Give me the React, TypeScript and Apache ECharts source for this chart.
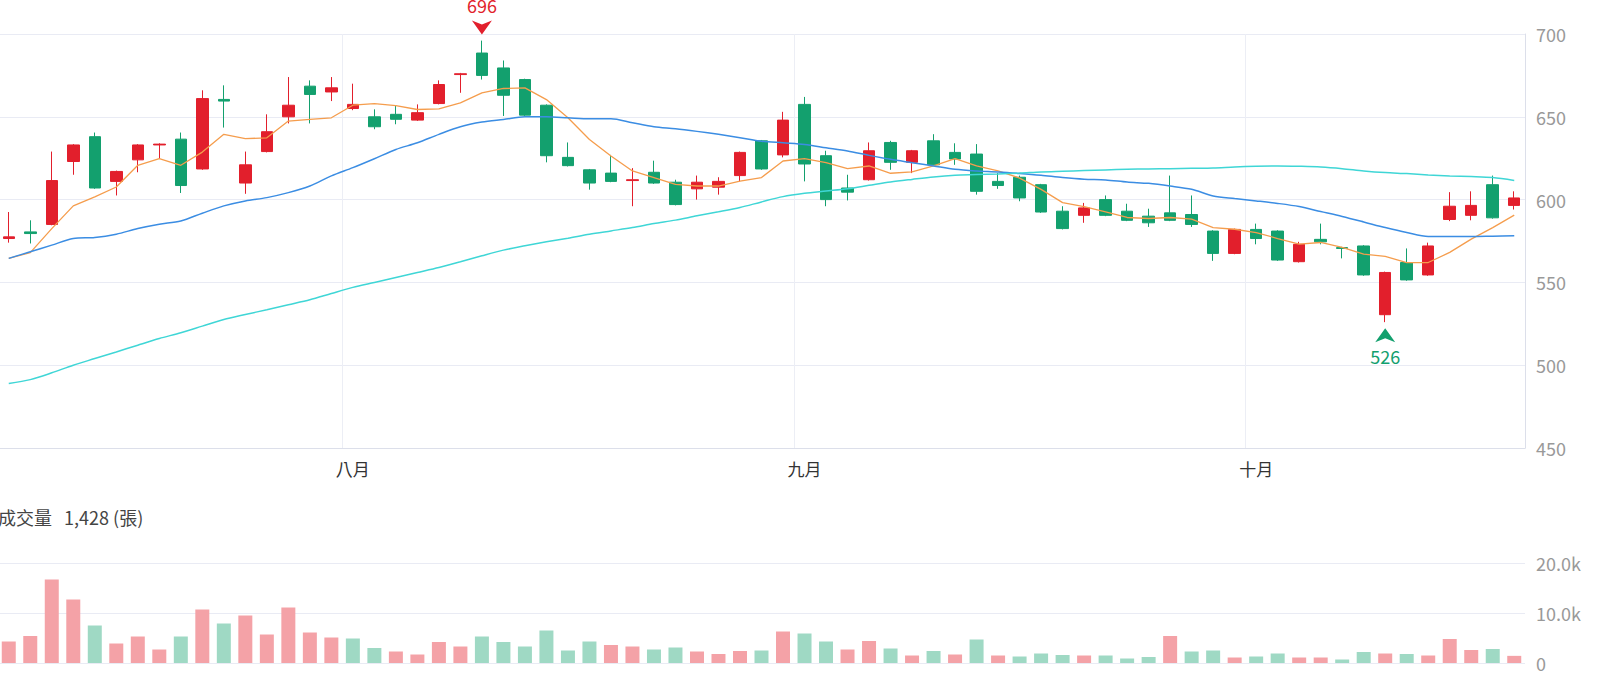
import React, { useEffect, useRef } from "react";
import * as echarts from "echarts";

const categories: string[] = [
  "07/10","07/11","07/12","07/15","07/16","07/17","07/18","07/19","07/22","07/23","07/24","07/25","07/26","07/29","07/30","07/31",
  "08/01","08/02","08/05","08/06","08/07","08/08","08/09","08/12","08/13","08/14","08/15","08/16","08/19","08/20","08/21","08/22","08/23","08/26","08/27","08/28","08/29",
  "09/02","09/03","09/04","09/05","09/06","09/09","09/10","09/11","09/12","09/13","09/16","09/18","09/19","09/20","09/23","09/24","09/25","09/26","09/27","09/30","09/30b",
  "10/01","10/04","10/07","10/08","10/09","10/11","10/14","10/15","10/16","10/17","10/18","10/21","10/22"
];

const monthTicks: Record<number, string> = { 16: "八月", 37: "九月", 58: "十月" };

// [open, close, low, high]
const ohlc: number[][] = [
  [576.5, 577.5, 574, 592.5],
  [580.5, 579.5, 573.5, 587.5],
  [585, 611.5, 584.5, 629],
  [623, 633, 615, 633.5],
  [638, 607, 606.5, 640.5],
  [611, 617, 602.5, 617.5],
  [624, 633, 616.5, 633.5],
  [633, 633.5, 624.5, 634],
  [636.5, 608.5, 604, 640.5],
  [618.5, 661, 618, 666],
  [660.5, 659.5, 643.5, 669],
  [610, 621, 603.5, 629],
  [629, 641, 628.5, 651.5],
  [650, 657, 646, 674],
  [668.5, 663.5, 646, 672],
  [665, 667.5, 659.5, 674],
  [655, 657.5, 654, 670],
  [650, 644, 642.5, 654.5],
  [651.5, 648.5, 645.5, 656.5],
  [648, 652.5, 647.5, 657.5],
  [658, 669.5, 657.5, 672],
  [675.5, 676, 664.5, 676.5],
  [688.5, 675, 672.5, 696],
  [679.5, 663, 650.5, 684],
  [672.5, 651, 650.5, 673],
  [657, 626.5, 622.5, 657.5],
  [625.5, 620.5, 620, 634.5],
  [618, 610, 606, 618.5],
  [616, 611, 610.5, 627],
  [611.5, 612, 596, 619],
  [616.5, 610, 609.5, 623.5],
  [610.5, 597, 596.5, 612],
  [606.5, 610.5, 600, 614.5],
  [607.5, 611, 603, 613.5],
  [614.5, 628.5, 611, 629],
  [635.5, 618.5, 618, 636],
  [627, 648, 625.5, 653],
  [657.5, 621.5, 611, 662],
  [626.5, 600, 596, 629.5],
  [607, 604.5, 599.5, 615],
  [612, 629.5, 611.5, 634.5],
  [634.5, 622.5, 618, 635.5],
  [622.5, 629.5, 616, 630],
  [635.5, 621, 620.5, 639.5],
  [628.5, 624.5, 621, 634],
  [627.5, 605, 603, 633.5],
  [611, 608.5, 606.5, 616],
  [613.5, 601, 599, 614.5],
  [609, 592.5, 592, 609.5],
  [593, 582.5, 582, 596],
  [590.5, 595, 586, 598],
  [600, 590.5, 590, 602.5],
  [593, 587.5, 587, 597.5],
  [590, 586, 583.5, 594.5],
  [592, 587.5, 587, 614.5],
  [591, 585, 583.5, 602.5],
  [581, 567.5, 563, 581.5],
  [567.5, 582, 567, 582.5],
  [582, 576.5, 573, 585.5],
  [581, 563.5, 563, 581.5],
  [562.5, 573, 562, 574.5],
  [576, 574.5, 573, 585.5],
  [571, 570.5, 564.5, 571.5],
  [572, 554.5, 554, 572.5],
  [530.5, 556, 526, 556.5],
  [562, 551.5, 551, 570.5],
  [554.5, 572, 554, 574],
  [588, 596, 587, 604.5],
  [590.5, 596.5, 587.5, 605],
  [609, 589, 588.5, 614.5],
  [596.5, 601, 594, 605]
];

const ma5: number[] = [
  564.5, 568, 582.5, 596.2, 601.6, 607.6, 620.7, 624.7, 620.7, 628.7, 639.4, 636.8, 637.3, 647.4, 648.4, 649.4,
  657, 658, 656.8, 654.4, 654.8, 658.4, 664.5, 667.1, 667.5, 660.4, 649.4, 636.3, 626.3, 617.3, 613.3, 609.2,
  608.2, 608.2, 611.2, 613.3, 623.3, 624.7, 622.3, 618.7, 620.3, 615.9, 616.7, 620.3, 624.7, 620.3, 617.3, 613,
  606.2, 598.2, 595.8, 592.6, 589.2, 588.6, 589.2, 588.2, 583.1, 582.1, 580.1, 576.5, 573.1, 574.1, 571.1, 567.1,
  565.7, 562, 562, 568.1, 576.1, 583.1, 590.6
];

const ma20: number[] = [
  564.5, 568.5, 572.5, 576.5, 577.1, 579.1, 582.5, 585.1, 587.1, 591.8, 596.2, 599.2, 601.2, 604.2, 608.2, 614.3,
  619.3, 624.7, 630.3, 634.3, 639.4, 644, 646.8, 648.4, 650, 650, 649.4, 648.8, 648.8, 646.4, 644, 642.8,
  641.2, 639.4, 637.4, 635.3, 634.3, 633.3, 631.3, 629.3, 626.7, 624.3, 622.3, 620.3, 618.3, 617.3, 616.7, 615.8,
  614.7, 613.3, 612.3, 611.9, 610.6, 609.8, 608.2, 606.2, 602.2, 600.6, 599.2, 597.7, 595.8, 592.8, 589.8, 586.5,
  583.1, 580.1, 577.7, 577.7, 577.7, 577.9, 578.1
];

const ma60: number[] = [
  488.9, 491.3, 495.4, 500, 504, 508, 512.1, 516.1, 519.6, 523.6, 527.6, 530.6, 533.5, 536.5, 539.5, 543.3,
  547, 550, 553, 556, 559, 562.5, 566.1, 569.5, 572.1, 574.5, 576.7, 579.1, 581.1, 583.1, 585.5, 587.6,
  590.2, 592.6, 595.2, 598.6, 601.8, 603.8, 605.2, 606.6, 608.6, 610.6, 612.2, 613.7, 614.7, 615.1, 615.5, 616,
  616.7, 617.1, 617.5, 617.9, 618.3, 618.5, 618.7, 618.9, 619.1, 619.7, 620.1, 620.3, 620.1, 619.7, 618.7, 617.3,
  616.3, 615.7, 614.9, 614.3, 613.9, 613.3, 611.6
];

const volumes: number[] = [
  4300, 5400, 16700, 12700, 7500, 3900, 5300, 2700, 5300, 10700, 7900, 9500, 5700, 11100, 6100, 5100,
  4900, 3000, 2300, 1700, 4200, 3300, 5300, 4200, 3300, 6500, 2500, 4300, 3600, 3300, 2700, 3100,
  2300, 1800, 2400, 2500, 6300, 5900, 4300, 2700, 4400, 2900, 1500, 2400, 1700, 4700, 1500, 1300,
  1900, 1600, 1500, 1500, 900, 1200, 5400, 2300, 2500, 1100, 1300, 1900, 1100, 1100, 700, 2200,
  1900, 1800, 1500, 4800, 2600, 2800, 1428
];

// 1 = red (up vs previous close), -1 = green
const volumeDir: number[] = [
  1, 1, 1, 1, -1, 1, 1, 1, -1, 1, -1, 1, 1, 1, 1, 1,
  -1, -1, 1, 1, 1, 1, -1, -1, -1, -1, -1, -1, 1, 1, -1, -1,
  1, 1, 1, -1, 1, -1, -1, 1, 1, -1, 1, -1, 1, -1, 1, -1,
  -1, -1, 1, -1, -1, -1, 1, -1, -1, 1, -1, -1, 1, 1, -1, -1,
  1, -1, 1, 1, 1, -1, 1
];

const yTicks = { min: 450, max: 700, interval: 50 };
const volTicks = { min: 0, max: 20000, interval: 10000 };

const RED = "#e21f2c";
const GREEN = "#13a06e";
const FONT = "'Noto Sans CJK TC', 'Noto Sans', sans-serif";

export default function App() {
  const ref = useRef<HTMLDivElement>(null);

  useEffect(() => {
    if (!ref.current) return;
    const chart = echarts.init(ref.current, undefined, { renderer: "svg" });
    const lastVol = volumes[volumes.length - 1];
    const gridLine = { lineStyle: { color: "#e9ebf4", width: 1 } };

    chart.setOption({
      animation: false,
      textStyle: { fontFamily: FONT },
      grid: [
        { left: 0, right: 75, top: 34, height: 414 },
        { left: 0, right: 75, top: 563, height: 100 }
      ],
      graphic: [
        {
          type: "text",
          x: 0,
          y: 517,
          style: {
            text: "成交量   " + lastVol.toLocaleString("en-US") + " (張)",
            fontSize: 18,
            fontFamily: FONT,
            fill: "#444",
            verticalAlign: "middle"
          }
        }
      ],
      xAxis: [
        {
          type: "category",
          data: categories,
          gridIndex: 0,
          boundaryGap: true,
          axisLine: { show: true, lineStyle: { color: "#dcdfea" } },
          axisTick: { show: false },
          axisLabel: {
            interval: (i: number) => monthTicks[i] !== undefined,
            formatter: (_v: string, i: number) => monthTicks[i] || "",
            color: "#333",
            fontSize: 17,
            margin: 12,
            fontFamily: FONT
          },
          splitLine: {
            show: true,
            interval: (i: number) => monthTicks[i] !== undefined,
            lineStyle: { color: "#eceef5" }
          }
        },
        {
          type: "category",
          data: categories,
          gridIndex: 1,
          boundaryGap: true,
          axisLine: { show: false },
          axisTick: { show: false },
          axisLabel: { show: false },
          splitLine: { show: false }
        }
      ],
      yAxis: [
        {
          type: "value",
          gridIndex: 0,
          position: "right",
          min: yTicks.min,
          max: yTicks.max,
          interval: yTicks.interval,
          axisLine: { show: true, lineStyle: { color: "#dcdfea" } },
          axisTick: { show: false },
          axisLabel: { color: "#999", fontSize: 18, margin: 11, fontFamily: FONT },
          splitLine: gridLine
        },
        {
          type: "value",
          gridIndex: 1,
          position: "right",
          min: volTicks.min,
          max: volTicks.max,
          interval: volTicks.interval,
          axisLine: { show: false },
          axisTick: { show: false },
          axisLabel: {
            color: "#999",
            fontSize: 18,
            margin: 11,
            fontFamily: FONT,
            formatter: (v: number) => (v === 0 ? "0" : (v / 1000).toFixed(1) + "k")
          },
          splitLine: gridLine
        }
      ],
      series: [
        {
          type: "candlestick",
          xAxisIndex: 0,
          yAxisIndex: 0,
          data: ohlc,
          barWidth: 12,
          itemStyle: {
            color: RED,
            color0: GREEN,
            borderColor: RED,
            borderColor0: GREEN,
            borderWidth: 1
          },
          markPoint: {
            animation: false,
            data: [
              {
                type: "max",
                valueDim: "highest",
                symbol: "path://M0,0 L10,4 L20,0 L10,14 Z",
                symbolSize: [20, 14],
                symbolOffset: [0, -13],
                itemStyle: { color: RED },
                label: {
                  show: true,
                  position: "top",
                  distance: 7,
                  color: RED,
                  fontSize: 18,
                  fontFamily: FONT,
                  formatter: (p: any) => String(p.value)
                }
              },
              {
                type: "min",
                valueDim: "lowest",
                symbol: "path://M10,0 L20,14 L10,10 L0,14 Z",
                symbolSize: [20, 14],
                symbolOffset: [0, 13],
                itemStyle: { color: GREEN },
                label: {
                  show: true,
                  position: "bottom",
                  distance: 5,
                  color: GREEN,
                  fontSize: 18,
                  fontFamily: FONT,
                  formatter: (p: any) => String(p.value)
                }
              }
            ]
          }
        },
        {
          type: "line",
          name: "MA5",
          data: ma5,
          xAxisIndex: 0,
          yAxisIndex: 0,
          showSymbol: false,
          symbol: "none",
          lineStyle: { color: "#f59d4d", width: 1.3 },
          z: 3
        },
        {
          type: "line",
          name: "MA20",
          data: ma20,
          xAxisIndex: 0,
          yAxisIndex: 0,
          showSymbol: false,
          symbol: "none",
          smooth: 0.3,
          lineStyle: { color: "#3b8de3", width: 1.5 },
          z: 3
        },
        {
          type: "line",
          name: "MA60",
          data: ma60,
          xAxisIndex: 0,
          yAxisIndex: 0,
          showSymbol: false,
          symbol: "none",
          smooth: 0.3,
          lineStyle: { color: "#3fd6d6", width: 1.5 },
          z: 3
        },
        {
          type: "bar",
          xAxisIndex: 1,
          yAxisIndex: 1,
          barWidth: 14,
          data: volumes.map((v, i) => ({
            value: v,
            itemStyle: { color: volumeDir[i] > 0 ? "#f4a2a7" : "#9fd9c4" }
          }))
        }
      ]
    });

    return () => chart.dispose();
  }, []);

  return (
    <div
      ref={ref}
      style={{ position: "absolute", left: -2, top: 0, width: 1602, height: 686 }}
    />
  );
}
